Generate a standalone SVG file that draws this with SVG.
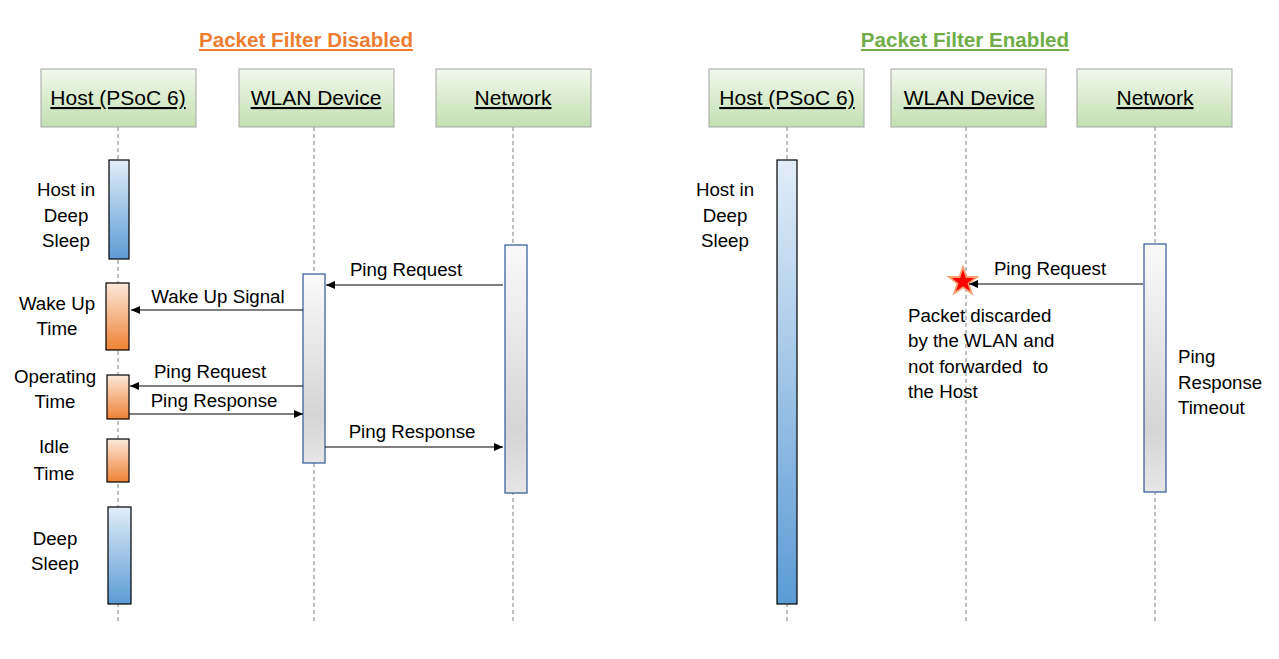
<svg xmlns="http://www.w3.org/2000/svg" width="1279" height="659" viewBox="0 0 1279 659">
<style>
text{font-family:"Liberation Sans",Arial,sans-serif;fill:#000}
.title{font-size:20.6px;font-weight:bold;text-decoration:underline}
.hdr{font-size:21px;text-decoration:underline;text-anchor:middle}
.lbl{font-size:18.7px}
.mid{text-anchor:middle}
.box{fill:url(#gHead);stroke:#A6A6A6;stroke-width:1}
.life{stroke:#808080;stroke-width:1;stroke-dasharray:4,3;fill:none}
.blue{fill:url(#gBlue);stroke:#000;stroke-width:1.2}
.orange{fill:url(#gOrange);stroke:#000;stroke-width:1.2}
.gray{fill:url(#gGray);stroke:#2F5597;stroke-width:1.2}
.msg{stroke:#000;stroke-width:1.2;fill:none;marker-end:url(#arr)}
</style>
<defs>
<linearGradient id="gHead" x1="0" y1="0" x2="0" y2="1"><stop offset="0" stop-color="#F2F8EE"/><stop offset="1" stop-color="#C3DFB0"/></linearGradient>
<linearGradient id="gBlue" x1="0" y1="0" x2="0" y2="1"><stop offset="0" stop-color="#E2EDF8"/><stop offset="1" stop-color="#5B9BD5"/></linearGradient>
<linearGradient id="gOrange" x1="0" y1="0" x2="0" y2="1"><stop offset="0" stop-color="#FCE8DA"/><stop offset="1" stop-color="#EE8235"/></linearGradient>
<linearGradient id="gGray" x1="0" y1="0" x2="0" y2="1"><stop offset="0" stop-color="#FAFAFA"/><stop offset="0.75" stop-color="#D5D5D5"/><stop offset="1" stop-color="#E6E6E6"/></linearGradient>
<marker id="arr" markerWidth="10" markerHeight="8" refX="9" refY="4" orient="auto" markerUnits="userSpaceOnUse"><path d="M0,0 L9,4 L0,8 z" fill="#000"/></marker>
</defs>
<rect width="1279" height="659" fill="#fff"/>

<text class="title" x="306" y="47" text-anchor="middle" style="fill:#ED7D31">Packet Filter Disabled</text>
<text class="title" x="965" y="47" text-anchor="middle" style="fill:#70AD47">Packet Filter Enabled</text>

<g id="lifelines">
<line class="life" x1="118" y1="127" x2="118" y2="622"/>
<line class="life" x1="314" y1="127" x2="314" y2="622"/>
<line class="life" x1="513" y1="127" x2="513" y2="622"/>
<line class="life" x1="787" y1="127" x2="787" y2="622"/>
<line class="life" x1="966" y1="127" x2="966" y2="622"/>
<line class="life" x1="1155" y1="127" x2="1155" y2="622"/>
</g>

<g id="host-left"><rect class="box" x="41" y="69" width="155" height="58"/><text class="hdr" x="118" y="105">Host (PSoC 6)</text></g>
<g id="wlan-left"><rect class="box" x="239" y="69" width="155" height="58"/><text class="hdr" x="316" y="105">WLAN Device</text></g>
<g id="network-left"><rect class="box" x="436" y="69" width="155" height="58"/><text class="hdr" x="513" y="105">Network</text></g>
<g id="host-right"><rect class="box" x="709" y="69" width="155" height="58"/><text class="hdr" x="787" y="105">Host (PSoC 6)</text></g>
<g id="wlan-right"><rect class="box" x="891" y="69" width="155" height="58"/><text class="hdr" x="969" y="105">WLAN Device</text></g>
<g id="network-right"><rect class="box" x="1077" y="69" width="155" height="58"/><text class="hdr" x="1155" y="105">Network</text></g>

<g id="act-host-sleep1"><rect class="blue" x="109" y="160" width="20" height="99"/>
<text class="lbl mid" x="66" y="196">Host in</text><text class="lbl mid" x="66" y="222">Deep</text><text class="lbl mid" x="66" y="247">Sleep</text></g>
<g id="act-host-wake"><rect class="orange" x="106" y="283" width="23" height="67"/>
<text class="lbl mid" x="57" y="310">Wake Up</text><text class="lbl mid" x="57" y="335">Time</text></g>
<g id="act-host-oper"><rect class="orange" x="107" y="375" width="22" height="44"/>
<text class="lbl mid" x="55" y="383">Operating</text><text class="lbl mid" x="55" y="408">Time</text></g>
<g id="act-host-idle"><rect class="orange" x="107" y="439" width="22" height="43"/>
<text class="lbl mid" x="54" y="453">Idle</text><text class="lbl mid" x="54" y="480">Time</text></g>
<g id="act-host-sleep2"><rect class="blue" x="108" y="507" width="23" height="97"/>
<text class="lbl mid" x="55" y="545">Deep</text><text class="lbl mid" x="55" y="570">Sleep</text></g>
<g id="act-wlan-left"><rect class="gray" x="303" y="274" width="22" height="189"/></g>
<g id="act-network-left"><rect class="gray" x="505" y="245" width="22" height="248"/></g>

<g id="act-host-right"><rect class="blue" x="777" y="160" width="20" height="444"/>
<text class="lbl mid" x="725" y="196">Host in</text><text class="lbl mid" x="725" y="222">Deep</text><text class="lbl mid" x="725" y="247">Sleep</text></g>
<g id="act-network-right"><rect class="gray" x="1144" y="244" width="22" height="248"/>
<text class="lbl" x="1178" y="363">Ping</text><text class="lbl" x="1178" y="389">Response</text><text class="lbl" x="1178" y="414">Timeout</text></g>
<g id="discard">
<polygon points="963,267 966.5,277 977,277 968.5,283.5 971.8,293.5 963,287.3 954.2,293.5 957.5,283.5 949,277 959.5,277" fill="#FF0000" stroke="#F4A070" stroke-width="1.8"/>
<text class="lbl" x="908" y="322">Packet discarded</text>
<text class="lbl" x="908" y="347">by the WLAN and</text>
<text class="lbl" x="908" y="373" xml:space="preserve">not forwarded  to</text>
<text class="lbl" x="908" y="398">the Host</text>
</g>

<g id="connectors">
<line class="msg" x1="503" y1="285" x2="326" y2="285"/>
<text class="lbl mid" x="406" y="276">Ping Request</text>
<line class="msg" x1="303" y1="310" x2="131" y2="310"/>
<text class="lbl mid" x="218" y="303">Wake Up Signal</text>
<line class="msg" x1="303" y1="386" x2="130" y2="386"/>
<text class="lbl mid" x="210" y="378">Ping Request</text>
<line class="msg" x1="129" y1="414" x2="303" y2="414"/>
<text class="lbl mid" x="214" y="407">Ping Response</text>
<line class="msg" x1="325" y1="447" x2="503" y2="447"/>
<text class="lbl mid" x="412" y="438">Ping Response</text>
<line class="msg" x1="1143" y1="284" x2="969" y2="284"/>
<text class="lbl mid" x="1050" y="275">Ping Request</text>
</g>
</svg>
